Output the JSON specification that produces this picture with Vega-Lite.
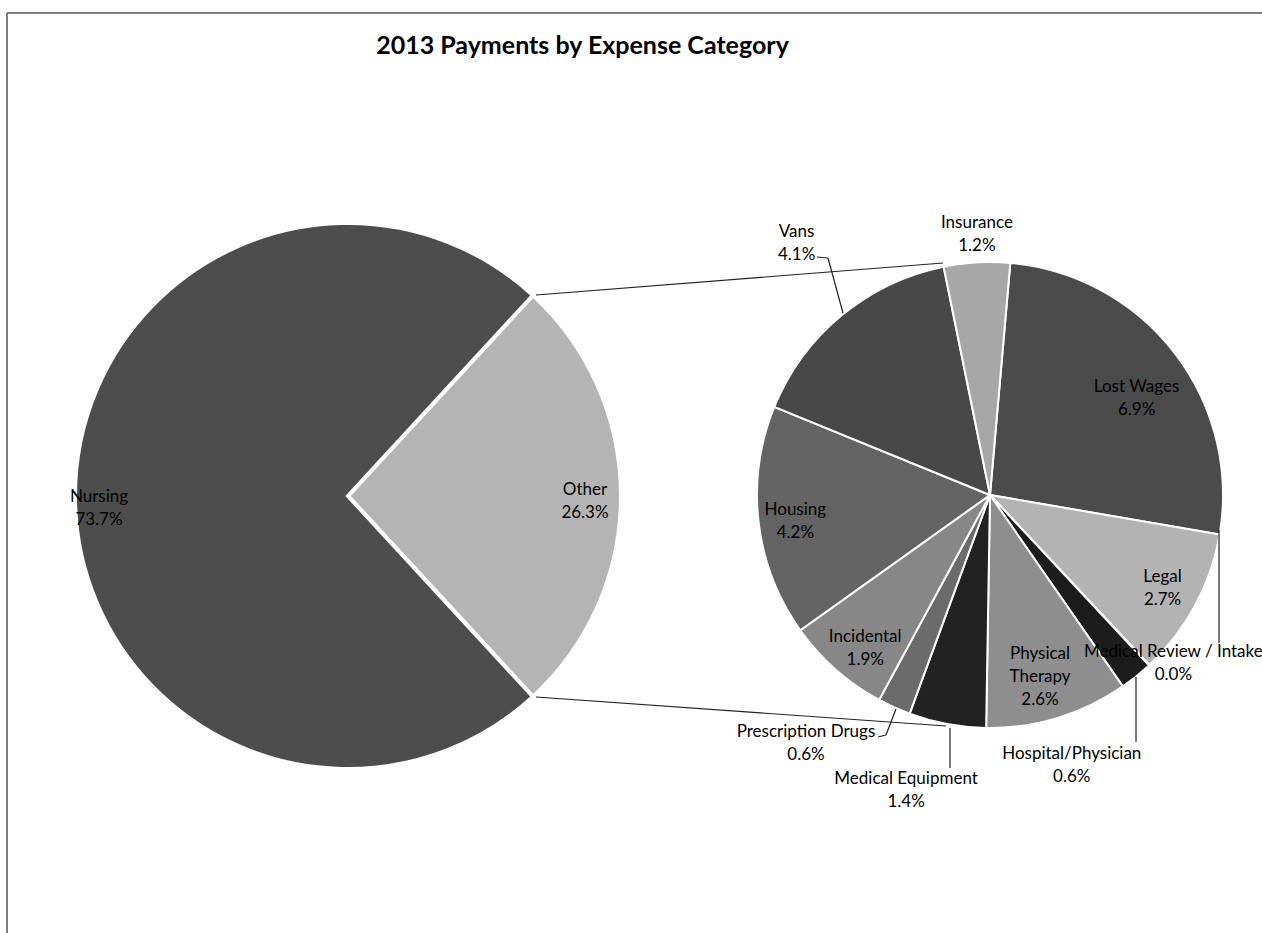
{
  "$schema": "https://vega.github.io/schema/vega-lite/v6.json",
  "width": 1255,
  "height": 920,
  "autosize": "none",
  "padding": {"left": 7, "top": 13, "right": 0, "bottom": 0},
  "background": "white",
  "config": {"view": {"stroke": null}},
  "title": {"text": "2013 Payments by Expense Category", "font": "Lato", "fontSize": 25, "fontWeight": "bold", "color": "black", "anchor": "middle", "dx": -52, "offset": -67, "baseline": "alphabetic"},
  "datasets": {
    "all_payments": [
      {"category": "Other", "share": 0.263},
      {"category": "Nursing", "share": 0.737}
    ],
    "other_breakdown": [
      {"category": "Lost Wages", "share": 0.069},
      {"category": "Legal", "share": 0.027},
      {"category": "Medical Review / Intake", "share": 0.0001},
      {"category": "Hospital/Physician", "share": 0.006},
      {"category": "Physical Therapy", "share": 0.026},
      {"category": "Medical Equipment", "share": 0.014},
      {"category": "Prescription Drugs", "share": 0.006},
      {"category": "Incidental", "share": 0.019},
      {"category": "Housing", "share": 0.042},
      {"category": "Vans", "share": 0.041},
      {"category": "Insurance", "share": 0.012}
    ]
  },
  "resolve": {"scale": {"theta": "independent", "color": "independent"}},
  "layer": [
    {"data": {"values": [{}]}, "mark": {"type": "rule", "color": "#555555", "strokeWidth": 1.5},
     "encoding": {"x": {"datum": 0, "type": "quantitative", "scale": {"domain": [0, 100], "nice": false, "zero": false}, "axis": null}, "y": {"datum": 0, "type": "quantitative", "scale": {"domain": [0, 100], "nice": false, "zero": false, "reverse": true}, "axis": null}, "x2": {"datum": 100}}},
    {"data": {"values": [{}]}, "mark": {"type": "rule", "color": "#555555", "strokeWidth": 1.5},
     "encoding": {"x": {"datum": 0}, "y": {"datum": 0}, "y2": {"datum": 100}}},
    {
      "data": {"name": "all_payments"},
      "transform": [{"window": [{"op": "row_number", "as": "idx"}]}],
      "encoding": {
        "theta": {"field": "share", "type": "quantitative", "stack": true, "scale": {"range": [0.74456, 7.02775]}},
        "order": {"field": "idx", "type": "quantitative"},
        "x": {"datum": 27.171, "type": "quantitative"},
        "y": {"datum": 52.5, "type": "quantitative"}
      },
      "layer": [
        {"mark": {"type": "arc", "outerRadius": 273, "stroke": "white", "strokeWidth": 4},
         "encoding": {"color": {"field": "category", "type": "nominal", "legend": null, "scale": {"domain": ["Other", "Nursing"], "range": ["#b4b4b4", "#4d4d4d"]}}}},
        {"mark": {"type": "text", "radius": 237, "dy": -1, "align": "center", "baseline": "alphabetic", "font": "Lato", "fontSize": 17, "color": "black"},
         "encoding": {"text": {"condition": {"test": "datum.category === 'Other'", "field": "category"}, "value": ""}}},
        {"mark": {"type": "text", "radius": 237, "dy": 22, "align": "center", "baseline": "alphabetic", "font": "Lato", "fontSize": 17, "color": "black"},
         "encoding": {"text": {"condition": {"test": "datum.category === 'Other'", "field": "share", "type": "quantitative", "format": ".1%"}, "value": ""}}},
        {"mark": {"type": "text", "radius": 249, "dy": 6, "align": "center", "baseline": "alphabetic", "font": "Lato", "fontSize": 17, "color": "black"},
         "encoding": {"text": {"condition": {"test": "datum.category === 'Nursing'", "field": "category"}, "value": ""}}},
        {"mark": {"type": "text", "radius": 249, "dy": 29, "align": "center", "baseline": "alphabetic", "font": "Lato", "fontSize": 17, "color": "black"},
         "encoding": {"text": {"condition": {"test": "datum.category === 'Nursing'", "field": "share", "type": "quantitative", "format": ".1%"}, "value": ""}}}
      ]
    },
    {
      "data": {"name": "other_breakdown"},
      "transform": [{"window": [{"op": "row_number", "as": "idx"}]}],
      "encoding": {
        "theta": {"field": "share", "type": "quantitative", "stack": true, "scale": {"range": [0.087266, 6.370451]}},
        "order": {"field": "idx", "type": "quantitative"},
        "x": {"datum": 78.327, "type": "quantitative"},
        "y": {"datum": 52.391, "type": "quantitative"}
      },
      "layer": [
        {"mark": {"type": "arc", "outerRadius": 233, "stroke": "white", "strokeWidth": 2},
         "encoding": {"color": {"field": "category", "type": "nominal", "legend": null, "scale": {
           "domain": ["Lost Wages", "Legal", "Medical Review / Intake", "Hospital/Physician", "Physical Therapy", "Medical Equipment", "Prescription Drugs", "Incidental", "Housing", "Vans", "Insurance"],
           "range": ["#4b4b4b", "#b3b3b3", "#2a2a2a", "#1c1c1c", "#8e8e8e", "#222222", "#6b6b6b", "#878787", "#646464", "#484848", "#a7a7a7"]}}}},
        {"mark": {"type": "text", "radius": 180, "dx": 4, "dy": 7, "align": "center", "baseline": "alphabetic", "font": "Lato", "fontSize": 17, "color": "black"},
         "encoding": {"text": {"condition": {"test": "datum.category === 'Lost Wages'", "field": "category"}, "value": ""}}},
        {"mark": {"type": "text", "radius": 180, "dx": 4, "dy": 30, "align": "center", "baseline": "alphabetic", "font": "Lato", "fontSize": 17, "color": "black"},
         "encoding": {"text": {"condition": {"test": "datum.category === 'Lost Wages'", "field": "share", "type": "quantitative", "format": ".1%"}, "value": ""}}},
        {"mark": {"type": "text", "radius": 196, "dx": 0, "dy": -6, "align": "center", "baseline": "alphabetic", "font": "Lato", "fontSize": 17, "color": "black"},
         "encoding": {"text": {"condition": {"test": "datum.category === 'Legal'", "field": "category"}, "value": ""}}},
        {"mark": {"type": "text", "radius": 196, "dx": 0, "dy": 17, "align": "center", "baseline": "alphabetic", "font": "Lato", "fontSize": 17, "color": "black"},
         "encoding": {"text": {"condition": {"test": "datum.category === 'Legal'", "field": "share", "type": "quantitative", "format": ".1%"}, "value": ""}}},
        {"mark": {"type": "text", "radius": 245, "dx": 16, "dy": -17, "align": "center", "baseline": "alphabetic", "font": "Lato", "fontSize": 17, "color": "black"},
         "encoding": {"text": {"condition": {"test": "datum.category === 'Medical Review / Intake'", "field": "category"}, "value": ""}}},
        {"mark": {"type": "text", "radius": 245, "dx": 16, "dy": 6, "align": "center", "baseline": "alphabetic", "font": "Lato", "fontSize": 17, "color": "black"},
         "encoding": {"text": {"condition": {"test": "datum.category === 'Medical Review / Intake'", "field": "share", "type": "quantitative", "format": ".1%"}, "value": ""}}},
        {"mark": {"type": "text", "radius": 280, "dx": -94, "dy": 46, "align": "center", "baseline": "alphabetic", "font": "Lato", "fontSize": 17, "color": "black"},
         "encoding": {"text": {"condition": {"test": "datum.category === 'Hospital/Physician'", "field": "category"}, "value": ""}}},
        {"mark": {"type": "text", "radius": 280, "dx": -94, "dy": 69, "align": "center", "baseline": "alphabetic", "font": "Lato", "fontSize": 17, "color": "black"},
         "encoding": {"text": {"condition": {"test": "datum.category === 'Hospital/Physician'", "field": "share", "type": "quantitative", "format": ".1%"}, "value": ""}}},
        {"mark": {"type": "text", "radius": 172, "dx": 0, "dy": -1, "align": "center", "baseline": "alphabetic", "font": "Lato", "fontSize": 17, "color": "black", "lineBreak": " ", "lineHeight": 23},
         "encoding": {"text": {"condition": {"test": "datum.category === 'Physical Therapy'", "field": "category"}, "value": ""}}},
        {"mark": {"type": "text", "radius": 172, "dx": 0, "dy": 45, "align": "center", "baseline": "alphabetic", "font": "Lato", "fontSize": 17, "color": "black"},
         "encoding": {"text": {"condition": {"test": "datum.category === 'Physical Therapy'", "field": "share", "type": "quantitative", "format": ".1%"}, "value": ""}}},
        {"mark": {"type": "text", "radius": 294, "dx": -30, "dy": 0, "align": "center", "baseline": "alphabetic", "font": "Lato", "fontSize": 17, "color": "black"},
         "encoding": {"text": {"condition": {"test": "datum.category === 'Medical Equipment'", "field": "category"}, "value": ""}}},
        {"mark": {"type": "text", "radius": 294, "dx": -30, "dy": 23, "align": "center", "baseline": "alphabetic", "font": "Lato", "fontSize": 17, "color": "black"},
         "encoding": {"text": {"condition": {"test": "datum.category === 'Medical Equipment'", "field": "share", "type": "quantitative", "format": ".1%"}, "value": ""}}},
        {"mark": {"type": "text", "radius": 265, "dx": -75, "dy": 0, "align": "center", "baseline": "alphabetic", "font": "Lato", "fontSize": 17, "color": "black"},
         "encoding": {"text": {"condition": {"test": "datum.category === 'Prescription Drugs'", "field": "category"}, "value": ""}}},
        {"mark": {"type": "text", "radius": 265, "dx": -75, "dy": 23, "align": "center", "baseline": "alphabetic", "font": "Lato", "fontSize": 17, "color": "black"},
         "encoding": {"text": {"condition": {"test": "datum.category === 'Prescription Drugs'", "field": "share", "type": "quantitative", "format": ".1%"}, "value": ""}}},
        {"mark": {"type": "text", "radius": 190, "dx": 1, "dy": 5, "align": "center", "baseline": "alphabetic", "font": "Lato", "fontSize": 17, "color": "black"},
         "encoding": {"text": {"condition": {"test": "datum.category === 'Incidental'", "field": "category"}, "value": ""}}},
        {"mark": {"type": "text", "radius": 190, "dx": 1, "dy": 28, "align": "center", "baseline": "alphabetic", "font": "Lato", "fontSize": 17, "color": "black"},
         "encoding": {"text": {"condition": {"test": "datum.category === 'Incidental'", "field": "share", "type": "quantitative", "format": ".1%"}, "value": ""}}},
        {"mark": {"type": "text", "radius": 196, "dx": 0, "dy": -3, "align": "center", "baseline": "alphabetic", "font": "Lato", "fontSize": 17, "color": "black"},
         "encoding": {"text": {"condition": {"test": "datum.category === 'Housing'", "field": "category"}, "value": ""}}},
        {"mark": {"type": "text", "radius": 196, "dx": 0, "dy": 20, "align": "center", "baseline": "alphabetic", "font": "Lato", "fontSize": 17, "color": "black"},
         "encoding": {"text": {"condition": {"test": "datum.category === 'Housing'", "field": "share", "type": "quantitative", "format": ".1%"}, "value": ""}}},
        {"mark": {"type": "text", "radius": 322, "dx": 12, "dy": -10, "align": "center", "baseline": "alphabetic", "font": "Lato", "fontSize": 17, "color": "black"},
         "encoding": {"text": {"condition": {"test": "datum.category === 'Vans'", "field": "category"}, "value": ""}}},
        {"mark": {"type": "text", "radius": 322, "dx": 12, "dy": 13, "align": "center", "baseline": "alphabetic", "font": "Lato", "fontSize": 17, "color": "black"},
         "encoding": {"text": {"condition": {"test": "datum.category === 'Vans'", "field": "share", "type": "quantitative", "format": ".1%"}, "value": ""}}},
        {"mark": {"type": "text", "radius": 267, "dx": 2, "dy": 0, "align": "center", "baseline": "alphabetic", "font": "Lato", "fontSize": 17, "color": "black"},
         "encoding": {"text": {"condition": {"test": "datum.category === 'Insurance'", "field": "category"}, "value": ""}}},
        {"mark": {"type": "text", "radius": 267, "dx": 2, "dy": 23, "align": "center", "baseline": "alphabetic", "font": "Lato", "fontSize": 17, "color": "black"},
         "encoding": {"text": {"condition": {"test": "datum.category === 'Insurance'", "field": "share", "type": "quantitative", "format": ".1%"}, "value": ""}}}
      ]
    },
    {"data": {"values": [{}]}, "mark": {"type": "rule", "color": "#222222", "strokeWidth": 1.2},
     "encoding": {"x": {"datum": 42.151}, "y": {"datum": 30.652}, "x2": {"datum": 74.582}, "y2": {"datum": 27.174}}},
    {"data": {"values": [{}]}, "mark": {"type": "rule", "color": "#222222", "strokeWidth": 1.2},
     "encoding": {"x": {"datum": 42.151}, "y": {"datum": 74.348}, "x2": {"datum": 74.821}, "y2": {"datum": 77.5}}},
    {"data": {"values": [{}]}, "mark": {"type": "rule", "color": "#222222", "strokeWidth": 1.2},
     "encoding": {"x": {"datum": 64.542}, "y": {"datum": 26.522}, "x2": {"datum": 65.418}, "y2": {"datum": 26.63}}},
    {"data": {"values": [{}]}, "mark": {"type": "rule", "color": "#222222", "strokeWidth": 1.2},
     "encoding": {"x": {"datum": 65.418}, "y": {"datum": 26.63}, "x2": {"datum": 66.614}, "y2": {"datum": 32.609}}},
    {"data": {"values": [{}]}, "mark": {"type": "rule", "color": "#222222", "strokeWidth": 1.2},
     "encoding": {"x": {"datum": 96.574}, "y": {"datum": 56.196}, "x2": {"datum": 96.574}, "y2": {"datum": 68.478}}},
    {"data": {"values": [{}]}, "mark": {"type": "rule", "color": "#222222", "strokeWidth": 1.2},
     "encoding": {"x": {"datum": 89.96}, "y": {"datum": 72.174}, "x2": {"datum": 89.96}, "y2": {"datum": 79.239}}},
    {"data": {"values": [{}]}, "mark": {"type": "rule", "color": "#222222", "strokeWidth": 1.2},
     "encoding": {"x": {"datum": 75.139}, "y": {"datum": 77.717}, "x2": {"datum": 75.139}, "y2": {"datum": 82.065}}},
    {"data": {"values": [{}]}, "mark": {"type": "rule", "color": "#222222", "strokeWidth": 1.2},
     "encoding": {"x": {"datum": 69.402}, "y": {"datum": 78.696}, "x2": {"datum": 70.04}, "y2": {"datum": 78.478}}},
    {"data": {"values": [{}]}, "mark": {"type": "rule", "color": "#222222", "strokeWidth": 1.2},
     "encoding": {"x": {"datum": 70.04}, "y": {"datum": 78.478}, "x2": {"datum": 70.837}, "y2": {"datum": 75.652}}}
  ]
}
